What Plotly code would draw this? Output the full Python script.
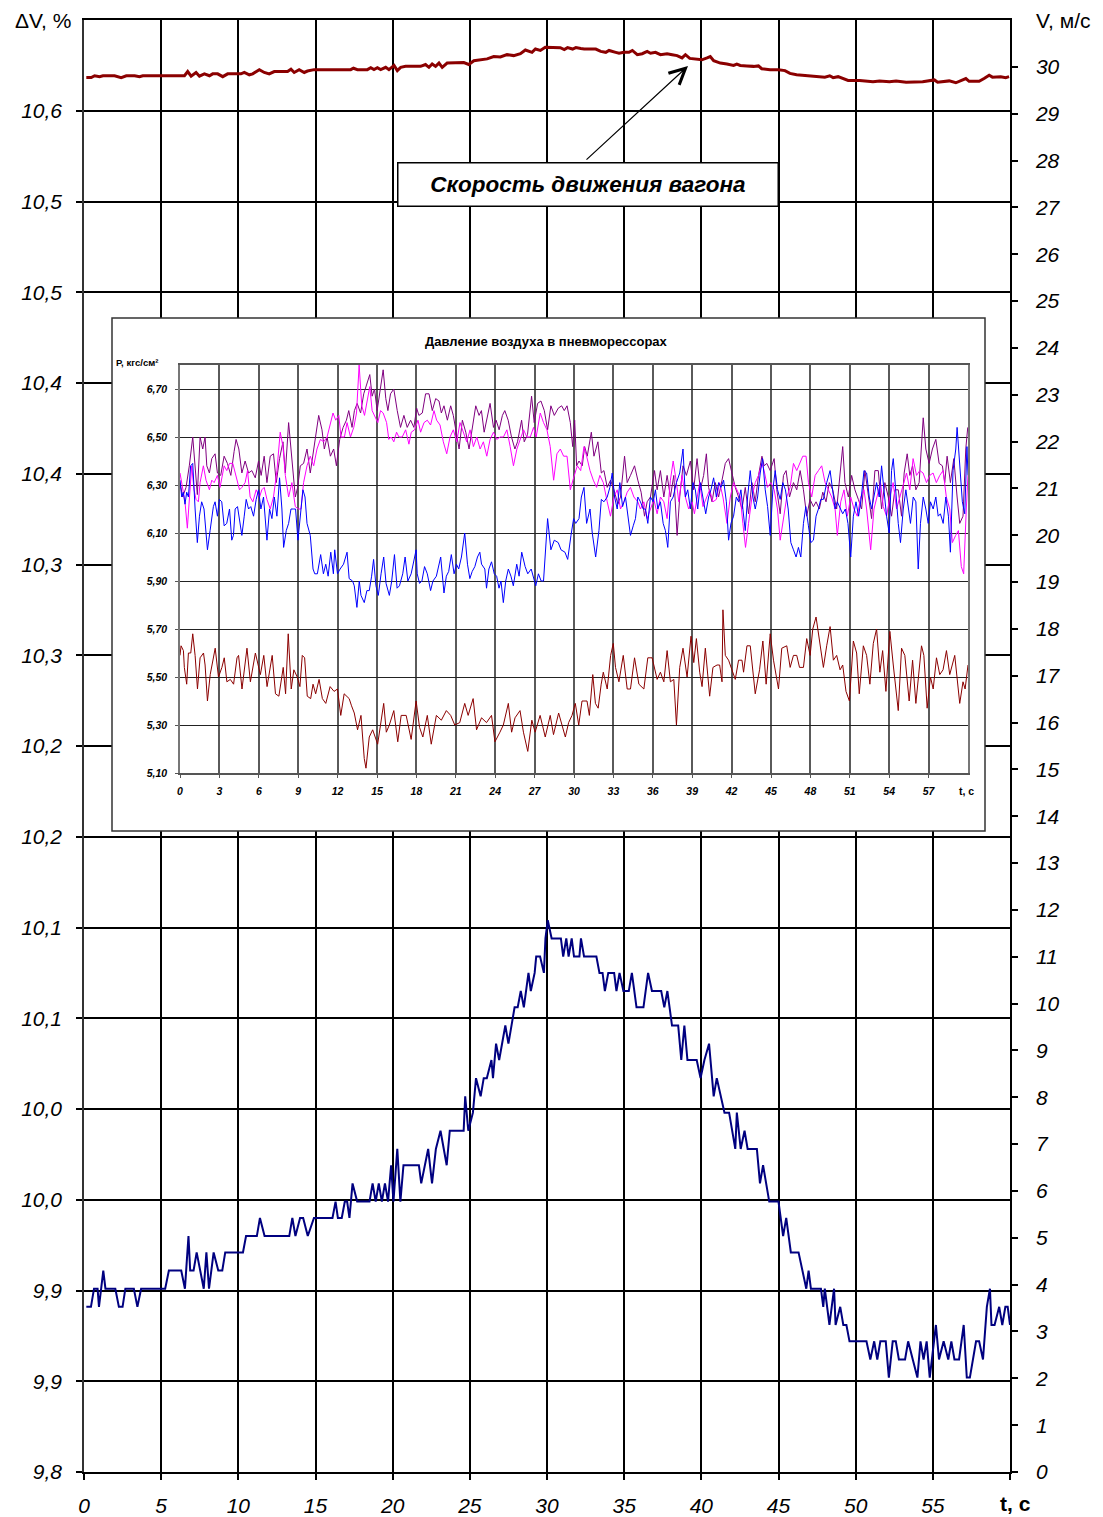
import plotly.graph_objects as go

# ---------------- main chart data ----------------
# relative speed change, %, left axis (time s, value)
dv_points = [
    (0.15, 9.891), (0.45, 9.891), (0.65, 9.901), (0.88, 9.901), (0.97, 9.891), (1.25, 9.911), (1.39, 9.901),
    (2.03, 9.901), (2.26, 9.891), (2.5, 9.891), (2.68, 9.901), (3.23, 9.901), (3.46, 9.891), (3.7, 9.901),
    (5.26, 9.901), (5.5, 9.911), (6.3, 9.911), (6.54, 9.901), (6.77, 9.930), (6.88, 9.911), (7.1, 9.911),
    (7.3, 9.921), (7.76, 9.901), (7.93, 9.921), (8.1, 9.901), (8.4, 9.921), (8.7, 9.911), (8.96, 9.911),
    (9.15, 9.921), (10.3, 9.921), (10.5, 9.930), (11.2, 9.930), (11.4, 9.940), (11.7, 9.930), (13.3, 9.930),
    (13.5, 9.940), (13.7, 9.930), (14.0, 9.940), (14.2, 9.940), (14.5, 9.930), (14.9, 9.940), (16.1, 9.940),
    (16.3, 9.949), (16.45, 9.940), (16.7, 9.940), (16.9, 9.949), (17.05, 9.949), (17.2, 9.940), (17.4, 9.959),
    (17.7, 9.949), (18.5, 9.949), (18.7, 9.959), (18.9, 9.949), (19.1, 9.959), (19.3, 9.949), (19.5, 9.959),
    (19.7, 9.949), (19.9, 9.969), (20.05, 9.949), (20.3, 9.978), (20.5, 9.949), (20.7, 9.969), (21.7, 9.969),
    (21.85, 9.959), (22.3, 9.978), (22.55, 9.959), (22.8, 9.978), (23.1, 9.988), (23.5, 9.969), (23.7, 9.988),
    (24.6, 9.988), (24.7, 10.007), (24.9, 9.988), (25.2, 9.998), (25.4, 10.017), (25.7, 10.007), (25.9, 10.017),
    (26.1, 10.017), (26.4, 10.027), (26.5, 10.017), (26.7, 10.036), (26.9, 10.027), (27.3, 10.046), (27.5, 10.036),
    (27.9, 10.056), (28.1, 10.056), (28.3, 10.065), (28.5, 10.056), (28.8, 10.075), (28.95, 10.065), (29.2, 10.075),
    (29.3, 10.084), (29.55, 10.084), (29.8, 10.075), (29.9, 10.094), (30.05, 10.104), (30.3, 10.094), (30.9, 10.094),
    (31.05, 10.084), (31.25, 10.094), (31.4, 10.084), (31.6, 10.094), (31.75, 10.084), (32.1, 10.084), (32.2, 10.094),
    (32.4, 10.084), (33.2, 10.084), (33.4, 10.075), (33.6, 10.075), (33.75, 10.065), (33.97, 10.075), (34.35, 10.075),
    (34.5, 10.065), (34.7, 10.075), (34.95, 10.065), (35.3, 10.065), (35.5, 10.075), (35.8, 10.056), (36.25, 10.056),
    (36.4, 10.065), (36.55, 10.075), (36.8, 10.065), (37.4, 10.065), (37.6, 10.056), (37.8, 10.065), (38.1, 10.046),
    (38.5, 10.046), (38.7, 10.027), (38.9, 10.046), (39.1, 10.027), (39.7, 10.027), (39.95, 10.017), (40.2, 10.027),
    (40.5, 10.036), (40.8, 10.007), (41.0, 10.017), (41.5, 9.998), (41.8, 9.998), (42.2, 9.978), (42.3, 9.998),
    (42.55, 9.978), (42.8, 9.988), (43.0, 9.978), (43.6, 9.978), (43.8, 9.959), (44.0, 9.969), (44.4, 9.949),
    (45.0, 9.949), (45.3, 9.930), (45.5, 9.940), (45.8, 9.921), (46.3, 9.921), (46.8, 9.901), (46.95, 9.911),
    (47.1, 9.901), (47.75, 9.901), (47.9, 9.891), (48.0, 9.901), (48.3, 9.881), (48.6, 9.901), (48.7, 9.881),
    (49.0, 9.891), (49.2, 9.881), (49.4, 9.881), (49.6, 9.872), (50.7, 9.872), (50.95, 9.862), (51.2, 9.872),
    (51.4, 9.862), (51.6, 9.872), (51.95, 9.872), (52.15, 9.852), (52.4, 9.872), (52.6, 9.872), (52.8, 9.862),
    (53.2, 9.862), (53.4, 9.872), (53.7, 9.862), (54.0, 9.852), (54.2, 9.872), (54.4, 9.862), (54.6, 9.872),
    (54.8, 9.852), (55.2, 9.881), (55.4, 9.862), (55.7, 9.872), (56.0, 9.862), (56.2, 9.872), (56.4, 9.862),
    (56.7, 9.862), (57.0, 9.881), (57.2, 9.852), (57.4, 9.852), (57.8, 9.872), (58.0, 9.872), (58.25, 9.862),
    (58.5, 9.891), (58.7, 9.901), (58.8, 9.881), (59.0, 9.881), (59.3, 9.891), (59.5, 9.881), (59.7, 9.891),
    (59.85, 9.891), (60.0, 9.881),
]

# car speed, m/s, right axis
speed_points = [
    (0.15, 29.77), (0.47, 29.77), (0.69, 29.81), (1.01, 29.79), (1.23, 29.81), (1.98, 29.81), (2.41, 29.77),
    (2.74, 29.81), (3.28, 29.81), (3.60, 29.79), (3.81, 29.81), (6.51, 29.81), (6.72, 29.90), (6.94, 29.80),
    (7.26, 29.88), (7.48, 29.80), (7.80, 29.85), (8.13, 29.81), (8.34, 29.85), (8.66, 29.85), (8.99, 29.79),
    (9.31, 29.85), (10.17, 29.85), (10.39, 29.88), (10.71, 29.83), (10.93, 29.85), (11.36, 29.94), (11.68, 29.88),
    (12.00, 29.85), (12.33, 29.90), (13.19, 29.90), (13.41, 29.95), (13.62, 29.88), (13.94, 29.94), (14.27, 29.88),
    (14.48, 29.91), (14.91, 29.94), (17.28, 29.94), (17.46, 29.97), (17.72, 29.94), (18.36, 29.94), (18.58, 29.98),
    (18.79, 29.94), (19.01, 29.98), (19.22, 29.94), (19.55, 29.99), (19.76, 29.94), (20.09, 30.03), (20.30, 29.92),
    (20.52, 29.99), (20.84, 30.01), (21.81, 30.01), (22.13, 30.05), (22.35, 29.99), (22.56, 30.06), (22.78, 30.01),
    (23.00, 30.08), (23.21, 29.99), (23.53, 30.08), (24.61, 30.09), (24.93, 30.05), (25.26, 30.13), (26.12, 30.17),
    (26.55, 30.22), (26.98, 30.21), (27.41, 30.26), (27.84, 30.24), (28.28, 30.28), (28.60, 30.36), (29.03, 30.31),
    (29.25, 30.38), (29.57, 30.35), (29.89, 30.42), (30.86, 30.41), (31.12, 30.37), (31.33, 30.41), (31.66, 30.38),
    (31.87, 30.41), (32.19, 30.39), (32.41, 30.38), (33.16, 30.38), (33.48, 30.33), (33.81, 30.31), (34.02, 30.35),
    (34.45, 30.31), (34.67, 30.29), (34.99, 30.31), (35.31, 30.31), (35.53, 30.35), (35.85, 30.26), (36.17, 30.28),
    (36.49, 30.33), (36.71, 30.29), (37.03, 30.31), (37.35, 30.26), (37.78, 30.28), (38.11, 30.26), (38.43, 30.24),
    (38.75, 30.19), (38.97, 30.26), (39.25, 30.18), (39.72, 30.17), (40.04, 30.15), (40.37, 30.19), (40.58, 30.22),
    (40.80, 30.13), (41.23, 30.08), (41.66, 30.06), (42.09, 30.03), (42.30, 30.06), (42.52, 30.03), (42.95, 30.02),
    (43.38, 30.01), (43.70, 30.02), (43.91, 29.96), (44.45, 29.94), (44.99, 29.94), (45.42, 29.92), (45.74, 29.86),
    (46.17, 29.83), (46.60, 29.82), (47.68, 29.80), (48.00, 29.78), (48.32, 29.81), (48.54, 29.77), (48.86, 29.79),
    (49.51, 29.71), (50.26, 29.71), (50.90, 29.69), (51.12, 29.68), (51.55, 29.70), (52.19, 29.68), (52.62, 29.70),
    (53.27, 29.67), (54.34, 29.68), (55.10, 29.72), (55.31, 29.67), (56.06, 29.70), (56.49, 29.66), (56.92, 29.71),
    (57.14, 29.75), (57.35, 29.69), (58.00, 29.69), (58.32, 29.75), (58.65, 29.82), (58.86, 29.78), (59.08, 29.78),
    (59.40, 29.79), (59.72, 29.77), (59.94, 29.79),
]

# ---------------- inset data: air pressure in the air springs, kgf/cm2 ----------------
spring_1 = [
    (0.00, 6.31), (0.20, 6.25), (0.46, 6.29), (0.71, 6.38), (0.97, 6.50), (1.15, 6.38), (1.32, 6.26), (1.53, 6.50),
    (1.73, 6.45), (1.91, 6.50), (2.04, 6.38), (2.24, 6.35), (2.42, 6.41), (2.67, 6.43), (2.85, 6.35), (3.10, 6.34),
    (3.36, 6.42), (3.61, 6.39), (3.87, 6.34), (4.12, 6.44), (4.27, 6.49), (4.48, 6.45), (4.71, 6.35), (4.96, 6.40),
    (5.22, 6.35), (5.47, 6.36), (5.73, 6.33), (5.98, 6.40), (6.18, 6.34), (6.41, 6.42), (6.62, 6.31), (6.87, 6.42),
    (7.12, 6.43), (7.33, 6.31), (7.58, 6.41), (7.84, 6.48), (8.02, 6.35), (8.27, 6.56), (8.52, 6.41), (8.78, 6.25),
    (8.96, 6.29), (9.16, 6.38), (9.41, 6.39), (9.67, 6.45), (9.92, 6.35), (10.18, 6.45), (10.38, 6.52), (10.56, 6.59),
    (10.81, 6.53), (10.99, 6.45), (11.20, 6.50), (11.45, 6.42), (11.70, 6.45), (11.91, 6.38), (12.16, 6.49),
    (12.42, 6.54), (12.67, 6.57), (12.85, 6.61), (13.10, 6.54), (13.28, 6.61), (13.49, 6.64), (13.75, 6.60),
    (13.99, 6.68), (14.25, 6.73), (14.45, 6.76), (14.63, 6.67), (14.81, 6.70), (15.01, 6.61), (15.27, 6.71),
    (15.47, 6.78), (15.67, 6.66), (15.83, 6.61), (16.03, 6.68), (16.28, 6.70), (16.54, 6.61), (16.79, 6.54),
    (17.05, 6.59), (17.30, 6.54), (17.56, 6.57), (17.81, 6.54), (18.02, 6.62), (18.19, 6.59), (18.45, 6.60),
    (18.70, 6.68), (18.96, 6.68), (19.21, 6.61), (19.47, 6.66), (19.72, 6.65), (19.90, 6.60), (20.10, 6.63),
    (20.36, 6.57), (20.61, 6.63), (20.81, 6.59), (20.99, 6.53), (21.25, 6.45), (21.50, 6.57), (21.76, 6.52),
    (22.01, 6.45), (22.26, 6.54), (22.52, 6.63), (22.77, 6.59), (22.95, 6.61), (23.16, 6.52), (23.41, 6.59),
    (23.61, 6.64), (23.87, 6.54), (24.07, 6.57), (24.30, 6.53), (24.55, 6.59), (24.73, 6.61), (24.99, 6.57),
    (25.24, 6.50), (25.50, 6.45), (25.70, 6.48), (26.01, 6.57), (26.21, 6.48), (26.46, 6.51), (26.77, 6.67),
    (26.97, 6.56), (27.23, 6.64), (27.48, 6.65), (27.74, 6.61), (27.99, 6.53), (28.24, 6.63), (28.50, 6.59),
    (28.80, 6.62), (29.06, 6.63), (29.26, 6.61), (29.47, 6.63), (29.72, 6.56), (29.90, 6.46), (30.05, 6.57),
    (30.20, 6.38), (30.38, 6.40), (30.63, 6.38), (30.81, 6.46), (31.01, 6.42), (31.32, 6.52), (31.52, 6.42),
    (31.82, 6.48), (32.08, 6.35), (32.28, 6.36), (32.53, 6.29), (32.78, 6.32), (33.04, 6.28), (33.34, 6.22),
    (33.54, 6.25), (33.85, 6.42), (34.05, 6.31), (34.30, 6.34), (34.61, 6.38), (34.86, 6.32), (35.11, 6.27),
    (35.37, 6.17), (35.57, 6.23), (35.82, 6.25), (36.13, 6.36), (36.33, 6.28), (36.58, 6.36), (36.84, 6.25),
    (37.09, 6.34), (37.34, 6.25), (37.60, 6.34), (37.85, 6.09), (38.05, 6.25), (38.30, 6.38), (38.56, 6.34),
    (38.86, 6.40), (39.11, 6.28), (39.37, 6.41), (39.62, 6.28), (39.87, 6.34), (40.08, 6.43), (40.25, 6.29),
    (40.51, 6.23), (40.76, 6.31), (41.01, 6.25), (41.27, 6.32), (41.52, 6.39), (41.77, 6.41), (42.03, 6.35),
    (42.28, 6.29), (42.53, 6.25), (42.79, 6.20), (43.04, 6.29), (43.29, 6.18), (43.55, 6.31), (43.80, 6.23),
    (44.05, 6.34), (44.31, 6.42), (44.48, 6.38), (44.68, 6.39), (44.94, 6.36), (45.24, 6.41), (45.44, 6.28),
    (45.70, 6.18), (45.95, 6.34), (46.15, 6.36), (46.41, 6.25), (46.71, 6.31), (46.96, 6.28), (47.22, 6.36),
    (47.47, 6.28), (47.72, 6.17), (47.97, 6.24), (48.23, 6.21), (48.43, 6.23), (48.68, 6.20), (48.94, 6.27),
    (49.19, 6.23), (49.44, 6.31), (49.70, 6.28), (50.00, 6.20), (50.20, 6.31), (50.46, 6.46), (50.63, 6.31),
    (50.89, 6.25), (51.14, 6.34), (51.39, 6.28), (51.65, 6.24), (51.90, 6.20), (52.15, 6.36), (52.41, 6.25),
    (52.66, 6.16), (52.91, 6.36), (53.17, 6.36), (53.42, 6.20), (53.67, 6.31), (53.93, 6.25), (54.18, 6.17),
    (54.43, 6.28), (54.69, 6.28), (54.94, 6.17), (55.14, 6.35), (55.37, 6.43), (55.57, 6.34), (55.78, 6.38),
    (56.03, 6.28), (56.28, 6.31), (56.59, 6.58), (56.79, 6.45), (57.04, 6.39), (57.29, 6.45), (57.55, 6.49),
    (57.80, 6.39), (58.05, 6.38), (58.23, 6.31), (58.41, 6.42), (58.66, 6.31), (58.92, 6.41), (59.17, 6.25),
    (59.37, 6.14), (59.62, 6.17), (59.83, 6.45), (59.98, 6.54),
]

spring_2 = [
    (0.00, 6.35), (0.20, 6.28), (0.38, 6.23), (0.56, 6.12), (0.71, 6.25), (0.89, 6.38), (1.07, 6.28), (1.22, 6.24),
    (1.40, 6.23), (1.53, 6.31), (1.78, 6.38), (1.98, 6.32), (2.24, 6.28), (2.42, 6.32), (2.60, 6.31), (2.85, 6.34),
    (3.05, 6.29), (3.36, 6.38), (3.56, 6.36), (3.77, 6.39), (4.02, 6.39), (4.27, 6.33), (4.53, 6.28), (4.71, 6.29),
    (4.96, 6.31), (5.14, 6.36), (5.34, 6.25), (5.55, 6.23), (5.80, 6.28), (6.06, 6.25), (6.23, 6.28), (6.41, 6.29),
    (6.62, 6.24), (6.87, 6.20), (7.12, 6.25), (7.38, 6.36), (7.63, 6.52), (7.84, 6.46), (8.02, 6.34), (8.27, 6.25),
    (8.52, 6.31), (8.78, 6.21), (9.03, 6.20), (9.21, 6.20), (9.41, 6.31), (9.67, 6.38), (9.92, 6.42), (10.18, 6.38),
    (10.43, 6.45), (10.69, 6.49), (10.94, 6.48), (11.20, 6.50), (11.45, 6.56), (11.65, 6.60), (11.86, 6.57),
    (12.09, 6.59), (12.26, 6.50), (12.52, 6.50), (12.72, 6.56), (12.98, 6.50), (13.23, 6.54), (13.44, 6.60),
    (13.64, 6.80), (13.84, 6.63), (14.05, 6.59), (14.25, 6.66), (14.45, 6.71), (14.63, 6.61), (14.81, 6.59),
    (15.06, 6.56), (15.27, 6.61), (15.47, 6.60), (15.73, 6.56), (15.90, 6.49), (16.08, 6.50), (16.28, 6.48),
    (16.49, 6.52), (16.67, 6.50), (16.92, 6.50), (17.18, 6.53), (17.43, 6.47), (17.61, 6.52), (17.86, 6.53),
    (18.12, 6.57), (18.32, 6.52), (18.58, 6.56), (18.83, 6.57), (19.08, 6.55), (19.34, 6.61), (19.54, 6.57),
    (19.80, 6.55), (20.05, 6.48), (20.31, 6.43), (20.56, 6.50), (20.81, 6.53), (21.07, 6.48), (21.32, 6.56),
    (21.58, 6.52), (21.83, 6.48), (22.09, 6.53), (22.34, 6.46), (22.60, 6.50), (22.85, 6.45), (23.10, 6.48),
    (23.36, 6.42), (23.61, 6.49), (23.87, 6.52), (24.12, 6.49), (24.38, 6.50), (24.63, 6.50), (24.89, 6.53),
    (25.14, 6.46), (25.39, 6.38), (25.65, 6.45), (25.90, 6.49), (26.16, 6.53), (26.41, 6.50), (26.67, 6.50),
    (26.92, 6.54), (27.12, 6.50), (27.43, 6.60), (27.68, 6.56), (27.94, 6.53), (28.19, 6.46), (28.45, 6.32),
    (28.70, 6.43), (28.96, 6.45), (29.21, 6.42), (29.47, 6.42), (29.72, 6.28), (29.97, 6.33), (30.25, 6.38),
    (30.51, 6.36), (30.76, 6.46), (30.96, 6.42), (31.22, 6.36), (31.47, 6.32), (31.72, 6.29), (31.97, 6.34),
    (32.23, 6.31), (32.53, 6.23), (32.78, 6.17), (33.04, 6.25), (33.29, 6.28), (33.54, 6.20), (33.80, 6.23),
    (34.05, 6.27), (34.30, 6.29), (34.56, 6.25), (34.86, 6.23), (35.06, 6.20), (35.32, 6.23), (35.57, 6.16),
    (35.82, 6.20), (36.08, 6.24), (36.33, 6.18), (36.58, 6.25), (36.84, 6.23), (37.09, 6.16), (37.34, 6.32),
    (37.55, 6.40), (37.80, 6.31), (37.98, 6.23), (38.23, 6.34), (38.48, 6.25), (38.73, 6.20), (38.99, 6.23),
    (39.17, 6.18), (39.37, 6.25), (39.57, 6.31), (39.82, 6.21), (40.08, 6.25), (40.33, 6.28), (40.58, 6.23),
    (40.84, 6.24), (41.09, 6.31), (41.34, 6.25), (41.65, 6.14), (41.90, 6.25), (42.15, 6.31), (42.41, 6.28),
    (42.66, 6.25), (42.86, 6.14), (43.06, 6.04), (43.29, 6.14), (43.55, 6.25), (43.80, 6.31), (44.05, 6.34),
    (44.31, 6.39), (44.48, 6.36), (44.73, 6.29), (44.99, 6.31), (45.24, 6.28), (45.49, 6.20), (45.70, 6.07),
    (45.95, 6.17), (46.20, 6.25), (46.46, 6.29), (46.71, 6.39), (46.96, 6.36), (47.17, 6.39), (47.42, 6.42),
    (47.67, 6.42), (47.85, 6.31), (48.10, 6.25), (48.36, 6.34), (48.61, 6.36), (48.86, 6.38), (49.12, 6.31),
    (49.37, 6.28), (49.62, 6.25), (49.88, 6.20), (50.05, 6.09), (50.31, 6.23), (50.56, 6.28), (50.81, 6.17),
    (51.07, 6.25), (51.32, 6.20), (51.57, 6.17), (51.83, 6.25), (52.08, 6.28), (52.28, 6.20), (52.59, 6.03),
    (52.84, 6.20), (53.09, 6.25), (53.34, 6.31), (53.55, 6.21), (53.80, 6.17), (54.05, 6.25), (54.30, 6.31),
    (54.56, 6.20), (54.81, 6.25), (55.07, 6.31), (55.32, 6.35), (55.57, 6.28), (55.82, 6.41), (56.08, 6.34),
    (56.33, 6.36), (56.58, 6.35), (56.84, 6.31), (57.09, 6.34), (57.34, 6.35), (57.59, 6.31), (57.85, 6.34),
    (58.10, 6.36), (58.35, 6.25), (58.61, 6.20), (58.81, 6.06), (59.06, 6.09), (59.27, 6.11), (59.49, 5.96),
    (59.67, 5.93), (59.87, 6.20), (60.00, 6.34),
]

spring_3 = [
    (0.00, 6.32), (0.13, 6.25), (0.25, 6.27), (0.38, 6.22), (0.51, 6.27), (0.64, 6.25), (0.81, 6.38), (0.97, 6.39),
    (1.15, 6.20), (1.32, 6.06), (1.48, 6.17), (1.65, 6.23), (1.83, 6.20), (1.98, 6.09), (2.09, 6.03), (2.29, 6.11),
    (2.54, 6.21), (2.67, 6.23), (2.85, 6.17), (3.00, 6.24), (3.18, 6.23), (3.36, 6.13), (3.56, 6.14), (3.77, 6.20),
    (3.94, 6.07), (4.07, 6.09), (4.20, 6.20), (4.38, 6.21), (4.58, 6.14), (4.71, 6.09), (4.89, 6.17), (5.04, 6.24),
    (5.22, 6.20), (5.39, 6.21), (5.60, 6.17), (5.80, 6.24), (5.98, 6.28), (6.16, 6.20), (6.36, 6.25), (6.62, 6.07),
    (6.82, 6.20), (7.00, 6.16), (7.18, 6.25), (7.38, 6.17), (7.58, 6.33), (7.76, 6.20), (7.89, 6.04), (8.09, 6.11),
    (8.27, 6.14), (8.45, 6.20), (8.65, 6.20), (8.80, 6.20), (8.98, 6.07), (9.16, 6.17), (9.36, 6.28), (9.52, 6.25),
    (9.67, 6.14), (9.92, 6.09), (10.13, 5.95), (10.26, 5.93), (10.46, 5.93), (10.71, 6.01), (10.92, 5.93),
    (11.10, 5.97), (11.28, 5.92), (11.48, 6.02), (11.68, 5.93), (11.78, 6.03), (11.99, 5.93), (12.19, 5.95),
    (12.45, 5.97), (12.72, 6.02), (12.88, 5.91), (13.14, 5.90), (13.27, 5.88), (13.47, 5.79), (13.65, 5.90),
    (13.78, 5.84), (14.03, 5.81), (14.23, 5.86), (14.41, 5.86), (14.59, 5.92), (14.74, 5.99), (14.92, 5.88),
    (15.10, 5.84), (15.31, 5.93), (15.51, 6.00), (15.69, 5.89), (15.94, 5.84), (16.12, 5.90), (16.33, 6.01),
    (16.53, 5.87), (16.71, 5.88), (16.96, 5.93), (17.14, 6.00), (17.35, 5.90), (17.60, 5.93), (17.98, 6.03),
    (18.06, 5.93), (18.24, 5.89), (18.42, 5.90), (18.62, 5.96), (18.83, 5.93), (19.08, 5.86), (19.26, 5.90),
    (19.52, 5.92), (19.69, 5.96), (19.85, 6.00), (20.10, 5.85), (20.28, 5.92), (20.46, 5.94), (20.66, 6.01),
    (20.87, 5.93), (21.05, 5.97), (21.22, 5.95), (21.43, 6.00), (21.68, 6.10), (21.89, 5.97), (22.07, 5.91),
    (22.25, 5.94), (22.45, 5.96), (22.65, 6.00), (22.83, 6.02), (22.96, 5.97), (23.21, 5.95), (23.34, 5.87),
    (23.52, 5.95), (23.72, 5.98), (23.93, 5.93), (24.11, 5.92), (24.29, 5.87), (24.44, 5.90), (24.62, 5.81),
    (24.80, 5.90), (25.00, 5.95), (25.20, 5.92), (25.38, 5.88), (25.64, 5.97), (25.82, 5.92), (26.02, 6.02),
    (26.28, 5.96), (26.48, 5.93), (26.74, 5.95), (26.91, 5.92), (27.09, 5.88), (27.29, 5.93), (27.50, 5.90),
    (27.68, 5.90), (27.99, 6.16), (28.24, 6.03), (28.50, 6.07), (28.80, 6.06), (29.01, 6.03), (29.31, 6.02),
    (29.52, 5.99), (29.77, 6.09), (29.97, 6.16), (30.13, 6.14), (30.38, 6.16), (30.56, 6.25), (30.76, 6.29),
    (30.96, 6.14), (31.22, 6.20), (31.39, 6.10), (31.65, 6.00), (31.90, 6.11), (32.08, 6.24), (32.28, 6.23),
    (32.53, 6.25), (32.73, 6.29), (32.91, 6.35), (33.09, 6.25), (33.29, 6.20), (33.49, 6.31), (33.70, 6.21),
    (33.92, 6.25), (34.10, 6.18), (34.30, 6.09), (34.51, 6.13), (34.68, 6.16), (34.86, 6.25), (35.06, 6.23),
    (35.27, 6.20), (35.44, 6.20), (35.62, 6.14), (35.82, 6.25), (36.03, 6.23), (36.20, 6.28), (36.38, 6.20),
    (36.58, 6.23), (36.79, 6.14), (36.96, 6.11), (37.14, 6.04), (37.34, 6.23), (37.55, 6.25), (37.80, 6.31),
    (38.05, 6.35), (38.30, 6.45), (38.48, 6.25), (38.66, 6.28), (38.86, 6.20), (39.06, 6.31), (39.24, 6.28),
    (39.42, 6.20), (39.62, 6.31), (39.82, 6.25), (40.03, 6.18), (40.25, 6.25), (40.43, 6.28), (40.63, 6.33),
    (40.84, 6.25), (41.01, 6.31), (41.19, 6.29), (41.39, 6.32), (41.60, 6.23), (41.77, 6.07), (41.95, 6.14),
    (42.15, 6.17), (42.36, 6.25), (42.53, 6.23), (42.71, 6.28), (42.86, 6.20), (43.04, 6.11), (43.22, 6.25),
    (43.42, 6.36), (43.62, 6.25), (43.80, 6.20), (43.98, 6.25), (44.18, 6.35), (44.36, 6.41), (44.56, 6.28),
    (44.74, 6.21), (44.94, 6.09), (45.14, 6.28), (45.32, 6.36), (45.50, 6.28), (45.70, 6.24), (45.90, 6.31),
    (46.10, 6.28), (46.31, 6.20), (46.51, 6.06), (46.71, 6.03), (46.91, 6.00), (47.09, 6.04), (47.27, 6.00),
    (47.47, 6.14), (47.65, 6.21), (47.85, 6.13), (48.03, 6.06), (48.23, 6.07), (48.43, 6.17), (48.61, 6.20),
    (48.79, 6.24), (48.99, 6.24), (49.24, 6.31), (49.50, 6.36), (49.70, 6.28), (49.88, 6.20), (50.05, 6.23),
    (50.26, 6.20), (50.46, 6.18), (50.66, 6.20), (50.86, 6.14), (51.07, 6.00), (51.27, 6.17), (51.47, 6.23),
    (51.67, 6.17), (51.88, 6.25), (52.08, 6.36), (52.28, 6.35), (52.48, 6.25), (52.66, 6.20), (52.84, 6.25),
    (53.04, 6.31), (53.24, 6.25), (53.42, 6.38), (53.60, 6.28), (53.80, 6.17), (54.00, 6.10), (54.18, 6.36),
    (54.31, 6.41), (54.51, 6.25), (54.69, 6.14), (54.86, 6.06), (55.07, 6.20), (55.27, 6.28), (55.45, 6.20),
    (55.62, 6.14), (55.83, 6.25), (56.03, 6.23), (56.21, 5.95), (56.38, 6.14), (56.59, 6.25), (56.79, 6.20),
    (56.97, 6.14), (57.14, 6.23), (57.35, 6.20), (57.55, 6.25), (57.73, 6.17), (57.90, 6.18), (58.11, 6.14),
    (58.31, 6.25), (58.51, 6.17), (58.66, 6.02), (58.86, 6.36), (59.07, 6.45), (59.17, 6.54), (59.37, 6.36),
    (59.57, 6.23), (59.75, 6.18), (59.92, 6.46), (60.00, 6.34),
]

spring_4 = [
    (0.00, 5.59), (0.08, 5.63), (0.26, 5.61), (0.33, 5.54), (0.51, 5.47), (0.64, 5.60), (0.82, 5.60), (0.97, 5.68),
    (1.15, 5.59), (1.33, 5.45), (1.53, 5.58), (1.79, 5.60), (1.91, 5.55), (2.09, 5.40), (2.30, 5.51), (2.68, 5.62),
    (2.93, 5.50), (3.19, 5.54), (3.37, 5.58), (3.57, 5.48), (3.83, 5.49), (4.08, 5.47), (4.34, 5.58), (4.46, 5.59),
    (4.72, 5.45), (5.10, 5.62), (5.36, 5.48), (5.74, 5.60), (6.12, 5.51), (6.38, 5.59), (6.63, 5.46), (7.02, 5.59),
    (7.27, 5.43), (7.53, 5.42), (7.86, 5.54), (8.04, 5.43), (8.24, 5.68), (8.47, 5.45), (8.67, 5.53), (8.93, 5.50),
    (9.13, 5.46), (9.31, 5.59), (9.49, 5.58), (9.69, 5.42), (9.95, 5.41), (10.13, 5.47), (10.33, 5.43),
    (10.59, 5.49), (10.84, 5.41), (11.10, 5.39), (11.43, 5.46), (11.73, 5.44), (11.99, 5.45), (12.24, 5.34),
    (12.50, 5.43), (12.88, 5.41), (13.06, 5.38), (13.27, 5.35), (13.52, 5.28), (13.78, 5.34), (14.03, 5.16),
    (14.16, 5.12), (14.41, 5.25), (14.67, 5.28), (15.05, 5.22), (15.31, 5.31), (15.51, 5.39), (15.71, 5.27),
    (15.94, 5.30), (16.28, 5.36), (16.58, 5.23), (16.84, 5.34), (17.22, 5.34), (17.60, 5.24), (17.98, 5.40),
    (18.24, 5.29), (18.49, 5.25), (18.83, 5.34), (19.13, 5.22), (19.52, 5.34), (19.90, 5.32), (20.28, 5.36),
    (20.61, 5.34), (20.92, 5.30), (21.30, 5.31), (21.68, 5.39), (21.94, 5.34), (22.32, 5.41), (22.58, 5.28),
    (22.96, 5.33), (23.34, 5.31), (23.72, 5.34), (23.98, 5.23), (24.36, 5.27), (24.62, 5.30), (25.00, 5.39),
    (25.25, 5.27), (25.51, 5.33), (25.89, 5.36), (26.15, 5.27), (26.48, 5.19), (26.79, 5.32), (27.04, 5.27),
    (27.42, 5.34), (27.81, 5.25), (28.19, 5.34), (28.44, 5.26), (28.83, 5.35), (29.08, 5.30), (29.34, 5.25),
    (29.59, 5.31), (29.85, 5.34), (30.10, 5.39), (30.36, 5.30), (30.61, 5.40), (30.99, 5.40), (31.17, 5.34),
    (31.43, 5.51), (31.63, 5.39), (31.84, 5.37), (32.07, 5.47), (32.23, 5.52), (32.53, 5.45), (32.79, 5.59),
    (32.99, 5.64), (33.16, 5.54), (33.42, 5.48), (33.75, 5.59), (34.05, 5.45), (34.30, 5.45), (34.61, 5.58),
    (34.94, 5.47), (35.32, 5.45), (35.62, 5.58), (35.95, 5.58), (36.13, 5.54), (36.33, 5.49), (36.58, 5.52),
    (36.84, 5.48), (37.09, 5.61), (37.34, 5.48), (37.60, 5.49), (37.80, 5.30), (38.05, 5.54), (38.30, 5.62),
    (38.61, 5.50), (38.91, 5.67), (39.12, 5.56), (39.32, 5.66), (39.57, 5.52), (39.75, 5.46), (40.00, 5.62),
    (40.33, 5.42), (40.58, 5.54), (40.89, 5.55), (41.09, 5.55), (41.27, 5.48), (41.34, 5.78), (41.52, 5.59),
    (41.77, 5.57), (42.03, 5.53), (42.28, 5.49), (42.53, 5.57), (42.79, 5.57), (42.91, 5.52), (43.17, 5.63),
    (43.42, 5.63), (43.62, 5.53), (43.80, 5.43), (44.13, 5.53), (44.38, 5.65), (44.63, 5.47), (44.94, 5.68),
    (45.19, 5.57), (45.57, 5.45), (45.82, 5.62), (46.20, 5.63), (46.46, 5.54), (46.71, 5.59), (46.96, 5.59),
    (47.17, 5.54), (47.47, 5.54), (47.72, 5.66), (47.98, 5.59), (48.18, 5.70), (48.43, 5.75), (48.69, 5.66),
    (48.99, 5.54), (49.24, 5.63), (49.50, 5.71), (49.75, 5.57), (50.00, 5.59), (50.26, 5.53), (50.46, 5.55),
    (50.71, 5.44), (50.97, 5.40), (51.27, 5.65), (51.52, 5.60), (51.72, 5.43), (52.03, 5.63), (52.28, 5.59),
    (52.53, 5.47), (52.79, 5.64), (53.04, 5.70), (53.29, 5.52), (53.50, 5.61), (53.75, 5.44), (54.05, 5.69),
    (54.31, 5.55), (54.69, 5.36), (54.94, 5.62), (55.19, 5.59), (55.52, 5.40), (55.78, 5.57), (56.03, 5.39),
    (56.46, 5.63), (56.64, 5.59), (56.89, 5.37), (57.14, 5.50), (57.35, 5.45), (57.60, 5.58), (57.85, 5.51),
    (58.10, 5.53), (58.36, 5.61), (58.61, 5.51), (58.99, 5.59), (59.37, 5.39), (59.62, 5.48), (59.78, 5.45),
    (60.00, 5.55),
]

# ---------------- axis ticks and labels ----------------
x_ticks = [0, 5, 10, 15, 20, 25, 30, 35, 40, 45, 50, 55, 60]
x_labels = ["0", "5", "10", "15", "20", "25", "30", "35", "40", "45", "50", "55", ""]
left_ticks = [9.80, 9.85, 9.90, 9.95, 10.00, 10.05, 10.10, 10.15, 10.20, 10.25, 10.30, 10.35, 10.40, 10.45, 10.50, 10.55]
left_labels = ["9,8", "9,9", "9,9", "10,0", "10,0", "10,1", "10,1", "10,2", "10,2", "10,3", "10,3", "10,4", "10,4",
               "10,5", "10,5", "10,6"]
right_ticks = list(range(0, 31))
inset_x_ticks = [0, 3, 6, 9, 12, 15, 18, 21, 24, 27, 30, 33, 36, 39, 42, 45, 48, 51, 54, 57]
inset_y_ticks = [5.10, 5.30, 5.50, 5.70, 5.90, 6.10, 6.30, 6.50, 6.70]
inset_y_labels = ["5,10", "5,30", "5,50", "5,70", "5,90", "6,10", "6,30", "6,50", "6,70"]

# ---------------- geometry (pixels) ----------------
W, H = 1103, 1517
ML, MR, MT, MB = 84, 93, 20, 45
PW, PH = W - ML - MR, H - MT - MB
X_RANGE = [0, 60]
Y_RANGE = [9.8, 10.6]
V_RANGE = [0, 31]


def paper_x(px):
    return (px - ML) / PW


def paper_y(py):
    return (H - MB - py) / PH


def data_x(px):
    return X_RANGE[0] + paper_x(px) * (X_RANGE[1] - X_RANGE[0])


def data_y(py):
    return Y_RANGE[0] + paper_y(py) * (Y_RANGE[1] - Y_RANGE[0])


def data_v(py):
    return V_RANGE[0] + paper_y(py) * (V_RANGE[1] - V_RANGE[0])


FONT = "Liberation Sans, Arial, sans-serif"


def unzip(points):
    return [p[0] for p in points], [p[1] for p in points]


fig = go.Figure()

t, v = unzip(dv_points)
fig.add_trace(go.Scatter(x=t, y=v, mode="lines", line=dict(color="#000080", width=2),
                         xaxis="x", yaxis="y", hoverinfo="skip"))
t, v = unzip(speed_points)
fig.add_trace(go.Scatter(x=t, y=v, mode="lines", line=dict(color="#8B0000", width=3),
                         xaxis="x", yaxis="y2", hoverinfo="skip"))

for pts, col in [(spring_4, "#8B0000"), (spring_1, "#800080"), (spring_2, "#FF00FF"), (spring_3, "#0000FF")]:
    t, p = unzip(pts)
    fig.add_trace(go.Scatter(x=t, y=p, mode="lines", line=dict(color=col, width=1),
                             xaxis="x3", yaxis="y3", hoverinfo="skip"))

main_tickfont = dict(family=FONT, size=21, style="italic", color="black")
inset_tickfont = dict(family=FONT, size=10.5, style="italic", weight="bold", color="black")

fig.update_layout(
    width=W, height=H,
    margin=dict(l=ML, r=MR, t=MT, b=MB, pad=0, autoexpand=False),
    paper_bgcolor="white", plot_bgcolor="white",
    showlegend=False,
    font=dict(family=FONT, color="black"),
    xaxis=dict(
        domain=[0, 1], range=X_RANGE, anchor="y", automargin=False,
        tickmode="array", tickvals=x_ticks, ticktext=x_labels,
        ticks="outside", ticklen=6, tickwidth=1.5, tickcolor="black",
        tickfont=main_tickfont, ticklabelstandoff=8,
        showgrid=True, gridcolor="black", gridwidth=1.5,
        showline=True, linecolor="black", linewidth=1.5, mirror=True,
        zeroline=False,
    ),
    yaxis=dict(
        domain=[0, 1], range=Y_RANGE, anchor="x", automargin=False,
        tickmode="array", tickvals=left_ticks, ticktext=left_labels,
        ticks="outside", ticklen=6, tickwidth=1.5, tickcolor="black",
        tickfont=main_tickfont, ticklabelstandoff=10,
        showgrid=True, gridcolor="black", gridwidth=1.5,
        showline=True, linecolor="#333", linewidth=1.5, mirror=True,
        zeroline=False,
    ),
    yaxis2=dict(
        overlaying="y", side="right", anchor="x", range=V_RANGE, automargin=False,
        tickmode="array", tickvals=right_ticks, ticktext=[str(v) for v in right_ticks],
        ticks="outside", ticklen=6, tickwidth=1.5, tickcolor="black",
        tickfont=main_tickfont, ticklabelstandoff=14,
        showgrid=False, showline=True, linecolor="black", linewidth=1.5,
        zeroline=False,
    ),
    yaxis4=dict(
        overlaying="y", side="right", anchor="x", range=V_RANGE, automargin=False,
        tickmode="array", tickvals=right_ticks,
        ticks="inside", ticklen=6, tickwidth=1.5, tickcolor="black",
        showticklabels=False, showgrid=False, showline=False, zeroline=False,
    ),
    xaxis3=dict(
        domain=[paper_x(180), paper_x(968)], range=[0, 60], anchor="y3", automargin=False,
        tickmode="array", tickvals=inset_x_ticks, ticktext=[str(v) for v in inset_x_ticks],
        ticks="outside", ticklen=3, tickwidth=1, tickcolor="#555",
        tickfont=inset_tickfont, ticklabelstandoff=5,
        showgrid=True, gridcolor="#5a5a5a", gridwidth=1.5,
        showline=True, linecolor="#555", linewidth=1.5, mirror=True,
        zeroline=False,
    ),
    yaxis3=dict(
        domain=[paper_y(773), paper_y(365)], range=[5.10, 6.80], anchor="x3", automargin=False,
        tickmode="array", tickvals=inset_y_ticks, ticktext=inset_y_labels,
        ticks="outside", ticklen=3, tickwidth=1, tickcolor="#555",
        tickfont=inset_tickfont, ticklabelstandoff=6,
        showgrid=True, gridcolor="#222", gridwidth=1,
        showline=True, linecolor="#777", linewidth=1.5, mirror=True,
        zeroline=False,
    ),
)

# white frame of the inset, above the main grid but below the main traces
fig.add_shape(
    type="rect", xref="x", yref="y", layer="between",
    x0=data_x(112), x1=data_x(985), y0=data_y(831), y1=data_y(318),
    fillcolor="white", line=dict(color="#333", width=1.5),
)

# axis captions
fig.add_annotation(xref="paper", yref="paper", x=paper_x(43), y=paper_y(20),
                   text="ΔV, %", showarrow=False, xanchor="center", yanchor="middle",
                   font=dict(family=FONT, size=21, color="black"))
fig.add_annotation(xref="paper", yref="paper", x=paper_x(1034), y=paper_y(20),
                   text="V, м/с", showarrow=False, xanchor="left", yanchor="middle",
                   font=dict(family=FONT, size=21, color="black"))
fig.add_annotation(xref="paper", yref="paper", x=paper_x(1015), y=paper_y(1503),
                   text="<b>t, c</b>", showarrow=False, xanchor="center", yanchor="middle",
                   font=dict(family=FONT, size=21, color="black"))

# callout for the speed curve
fig.add_annotation(xref="paper", yref="paper", x=paper_x(587.5), y=paper_y(184),
                   text="<b><i>Скорость движения вагона</i></b>", showarrow=False,
                   xanchor="center", yanchor="middle", width=377, height=40,
                   bgcolor="white", bordercolor="black", borderwidth=1.5, borderpad=1,
                   font=dict(family=FONT, size=22.5, color="black"))
fig.add_annotation(xref="x", yref="y2", axref="x", ayref="y2",
                   x=data_x(688), y=data_v(66),
                   ax=data_x(585), ay=data_v(161),
                   text="", showarrow=True, arrowhead=5, arrowsize=2.6, arrowwidth=1.2,
                   arrowcolor="black", standoff=0, startstandoff=0)

# inset captions
fig.add_annotation(xref="paper", yref="paper", x=paper_x(546), y=paper_y(341),
                   text="<b>Давление воздуха в пневморессорах</b>", showarrow=False,
                   xanchor="center", yanchor="middle",
                   font=dict(family=FONT, size=13, color="black"))
fig.add_annotation(xref="paper", yref="paper", x=paper_x(114), y=paper_y(362),
                   text="<b>P, кгс/см²</b>", showarrow=False,
                   xanchor="left", yanchor="middle",
                   font=dict(family=FONT, size=9.5, color="black"))
fig.add_annotation(xref="paper", yref="paper", x=paper_x(966), y=paper_y(791),
                   text="<b>t, c</b>", showarrow=False,
                   xanchor="center", yanchor="middle",
                   font=dict(family=FONT, size=10.5, color="black"))

fig.write_html("out.html")
